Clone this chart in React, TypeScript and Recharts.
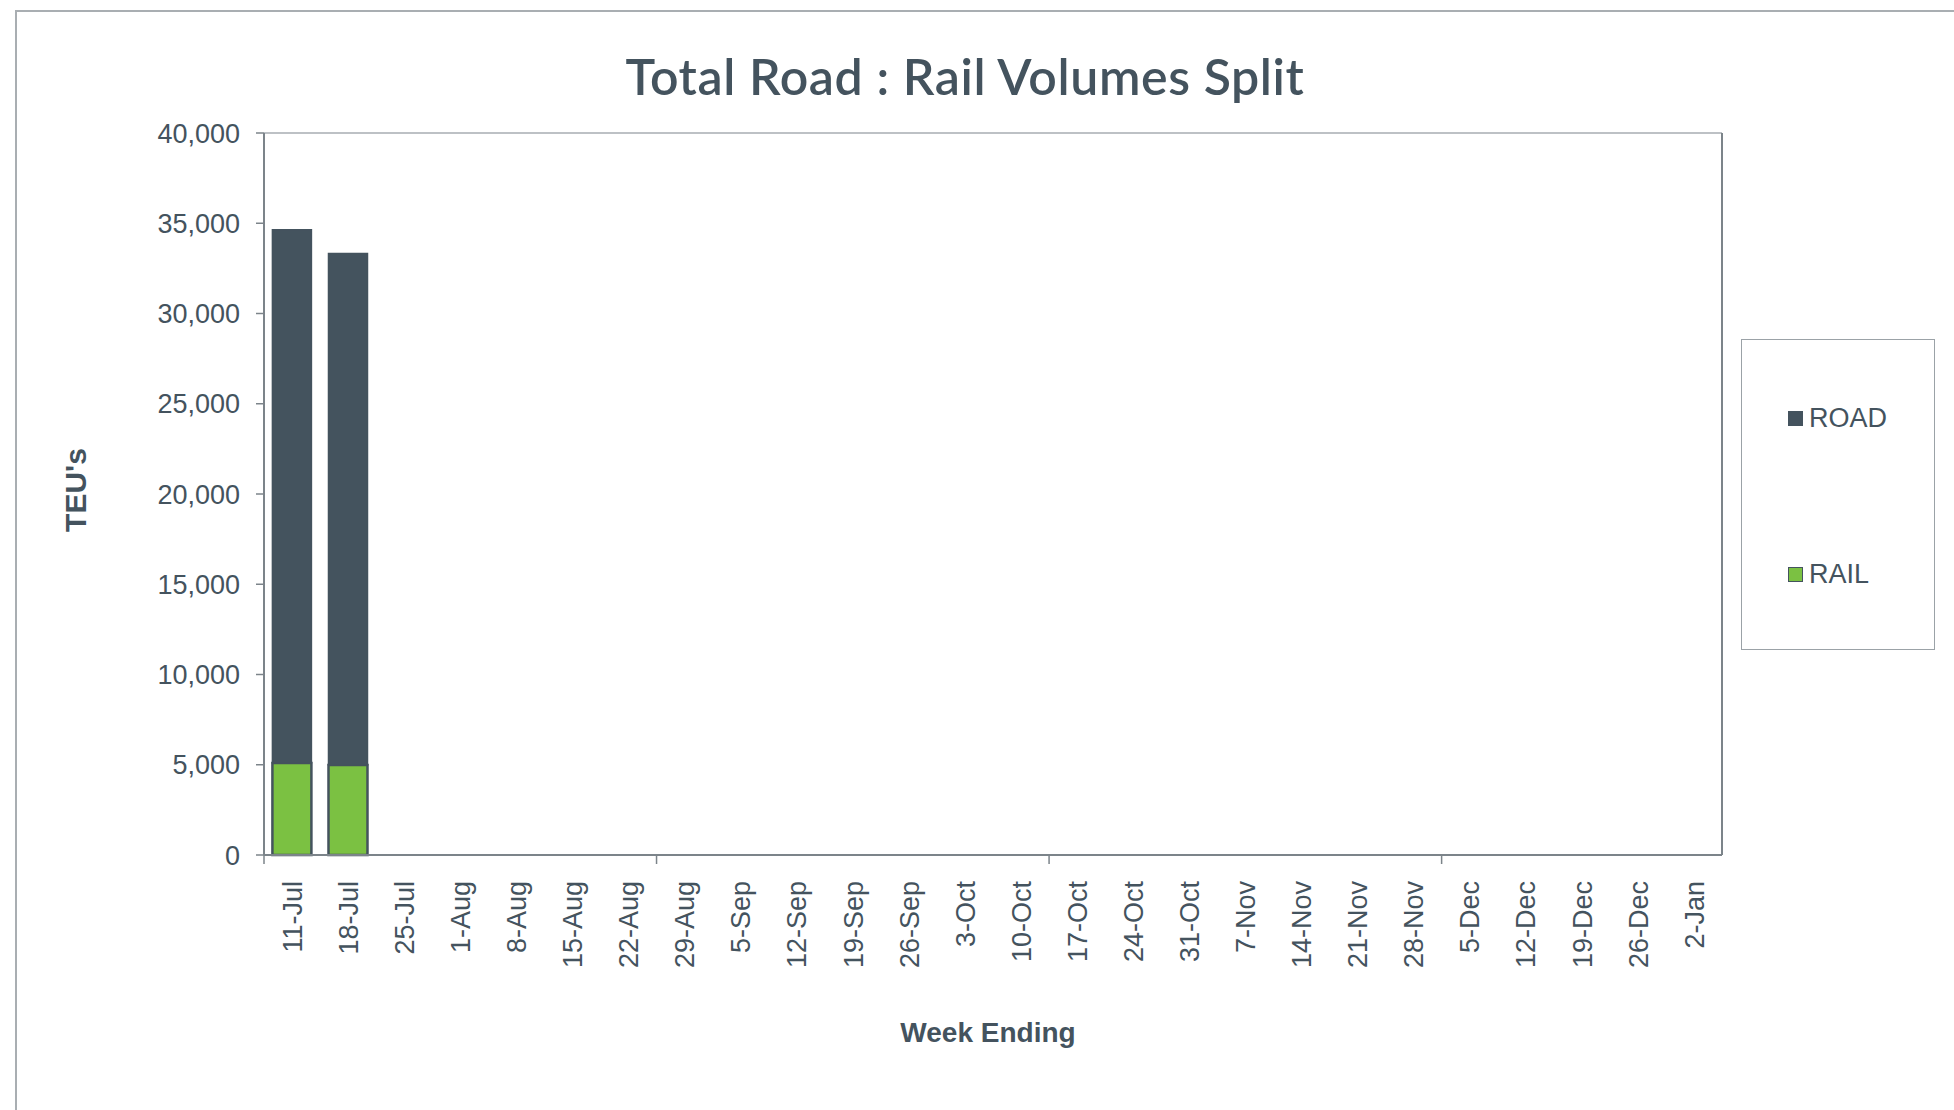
import React from 'react';
import { BarChart, Bar, XAxis, YAxis, CartesianGrid, Legend } from 'recharts';

const weeks = ['11-Jul', '18-Jul', '25-Jul', '1-Aug', '8-Aug', '15-Aug', '22-Aug', '29-Aug', '5-Sep', '12-Sep', '19-Sep', '26-Sep', '3-Oct', '10-Oct', '17-Oct', '24-Oct', '31-Oct', '7-Nov', '14-Nov', '21-Nov', '28-Nov', '5-Dec', '12-Dec', '19-Dec', '26-Dec', '2-Jan'];
const roadValues: (number | null)[] = [29540, 28350, null, null, null, null, null, null, null, null, null, null, null, null, null, null, null, null, null, null, null, null, null, null, null, null];
const railValues: (number | null)[] = [5100, 4980, null, null, null, null, null, null, null, null, null, null, null, null, null, null, null, null, null, null, null, null, null, null, null, null];
const yTicks = [0, 5000, 10000, 15000, 20000, 25000, 30000, 35000, 40000];

const data = weeks.map((w, i) => ({ week: w, RAIL: railValues[i], ROAD: roadValues[i] }));

const W = 1954;
const H = 1110;
const PLOT_LEFT = 264;
const PLOT_TOP = 133;
const PLOT_RIGHT = 1722;
const PLOT_BOTTOM = 855;
const Y_AXIS_W = 100;
const X_AXIS_H = 130;

const TEXT = '#44535e';
const ROAD_C = '#44535e';
const RAIL_C = '#7bc142';
const GRID = '#a7adb2';
const AXIS = '#7c848a';
const FONT = '"Liberation Sans", Arial, Helvetica, sans-serif';

const XTick = (props: any) => {
  const { x, y, payload } = props;
  const band = (PLOT_RIGHT - PLOT_LEFT) / weeks.length;
  const idx = payload.index ?? weeks.indexOf(payload.value);
  const showTick = idx % 7 === 0;
  return (
    <g>
      {showTick && (
        <line x1={x - band / 2} x2={x - band / 2} y1={y} y2={y + 9} stroke={AXIS} strokeWidth={1.5} />
      )}
      <text
        transform={`translate(${x},${y}) rotate(-90)`}
        x={-26}
        y={0}
        dy="0.36em"
        textAnchor="end"
        fill={TEXT}
        fontSize={27}
        fontFamily={FONT}
      >
        {payload.value}
      </text>
    </g>
  );
};

const LegendContent = (props: any) => {
  const items = [...(props.payload || [])].reverse();
  const rowsY = [78, 234];
  return (
    <div
      style={{
        position: 'relative',
        width: 194,
        height: 311,
        border: '1.5px solid #9ba2a7',
        boxSizing: 'border-box',
        background: '#fff',
      }}
    >
      {items.map((it: any, i: number) => (
        <div
          key={it.value}
          style={{
            position: 'absolute',
            left: 46,
            top: rowsY[i] - 16,
            height: 32,
            display: 'flex',
            alignItems: 'center',
            fontFamily: FONT,
            fontSize: 27,
            color: TEXT,
          }}
        >
          <span
            style={{
              display: 'inline-block',
              width: 13,
              height: 13,
              background: it.color,
              border: `1.5px solid ${ROAD_C}`,
              marginRight: 6,
            }}
          />
          {it.value}
        </div>
      ))}
    </div>
  );
};

export default function App() {
  return (
    <div style={{ position: 'absolute', left: 0, top: 0, width: W, height: H, overflow: 'hidden', background: '#fff' }}>
      <div
        style={{
          position: 'absolute',
          left: 15,
          top: 10,
          width: W + 100,
          height: H + 100,
          borderTop: '2px solid #a9aeb2',
          borderLeft: '2px solid #a9aeb2',
        }}
      />
      <div
        style={{
          position: 'absolute',
          left: 965,
          top: 76,
          transform: 'translate(-50%, -50%)',
          whiteSpace: 'nowrap',
          fontFamily: 'Lato, "Liberation Sans", sans-serif',
          fontWeight: 600,
          fontSize: 50,
          letterSpacing: 0.6,
          color: TEXT,
        }}
      >
        Total Road : Rail Volumes Split
      </div>
      <div
        style={{
          position: 'absolute',
          left: 76,
          top: 490,
          transform: 'translate(-50%, -50%) rotate(-90deg)',
          whiteSpace: 'nowrap',
          fontFamily: FONT,
          fontWeight: 700,
          fontSize: 30,
          color: TEXT,
        }}
      >
        TEU's
      </div>
      <div
        style={{
          position: 'absolute',
          left: 988,
          top: 1033,
          transform: 'translate(-50%, -50%)',
          whiteSpace: 'nowrap',
          fontFamily: FONT,
          fontWeight: 700,
          fontSize: 28,
          color: TEXT,
        }}
      >
        Week Ending
      </div>
      <div style={{ position: 'absolute', left: 0, top: 0 }}>
        <BarChart
          width={W}
          height={H}
          data={data}
          margin={{ top: PLOT_TOP, left: PLOT_LEFT - Y_AXIS_W, right: W - PLOT_RIGHT - 2, bottom: H - PLOT_BOTTOM - X_AXIS_H }}
          barCategoryGap="15%"
        >
          <CartesianGrid vertical={false} stroke={GRID} strokeWidth={1.5} />
          <XAxis
            dataKey="week"
            interval={0}
            height={X_AXIS_H}
            tickLine={false}
            tickSize={0}
            tickMargin={0}
            axisLine={{ stroke: AXIS, strokeWidth: 2 }}
            tick={<XTick />}
          />
          <YAxis
            yAxisId="left"
            width={Y_AXIS_W}
            domain={[0, 40000]}
            ticks={yTicks}
            interval={0}
            tickFormatter={(v: number) => v.toLocaleString('en-US')}
            tick={{ fill: TEXT, fontSize: 27, fontFamily: FONT }}
            tickLine={{ stroke: AXIS, strokeWidth: 1.5 }}
            tickSize={8}
            tickMargin={16}
            axisLine={{ stroke: AXIS, strokeWidth: 2 }}
          />
          <YAxis
            yAxisId="right"
            orientation="right"
            width={2}
            tick={false}
            tickLine={false}
            axisLine={{ stroke: AXIS, strokeWidth: 2 }}
          />
          <Legend
            layout="vertical"
            align="center"
            verticalAlign="middle"
            wrapperStyle={{ left: 1741, top: 339, width: 194, height: 311 }}
            content={<LegendContent />}
          />
          <Bar yAxisId="left" dataKey="RAIL" name="RAIL" stackId="a" fill={RAIL_C} stroke={ROAD_C} strokeWidth={2.5} isAnimationActive={false} />
          <Bar yAxisId="left" dataKey="ROAD" name="ROAD" stackId="a" fill={ROAD_C} stroke={ROAD_C} strokeWidth={1.5} isAnimationActive={false} />
        </BarChart>
      </div>
    </div>
  );
}
